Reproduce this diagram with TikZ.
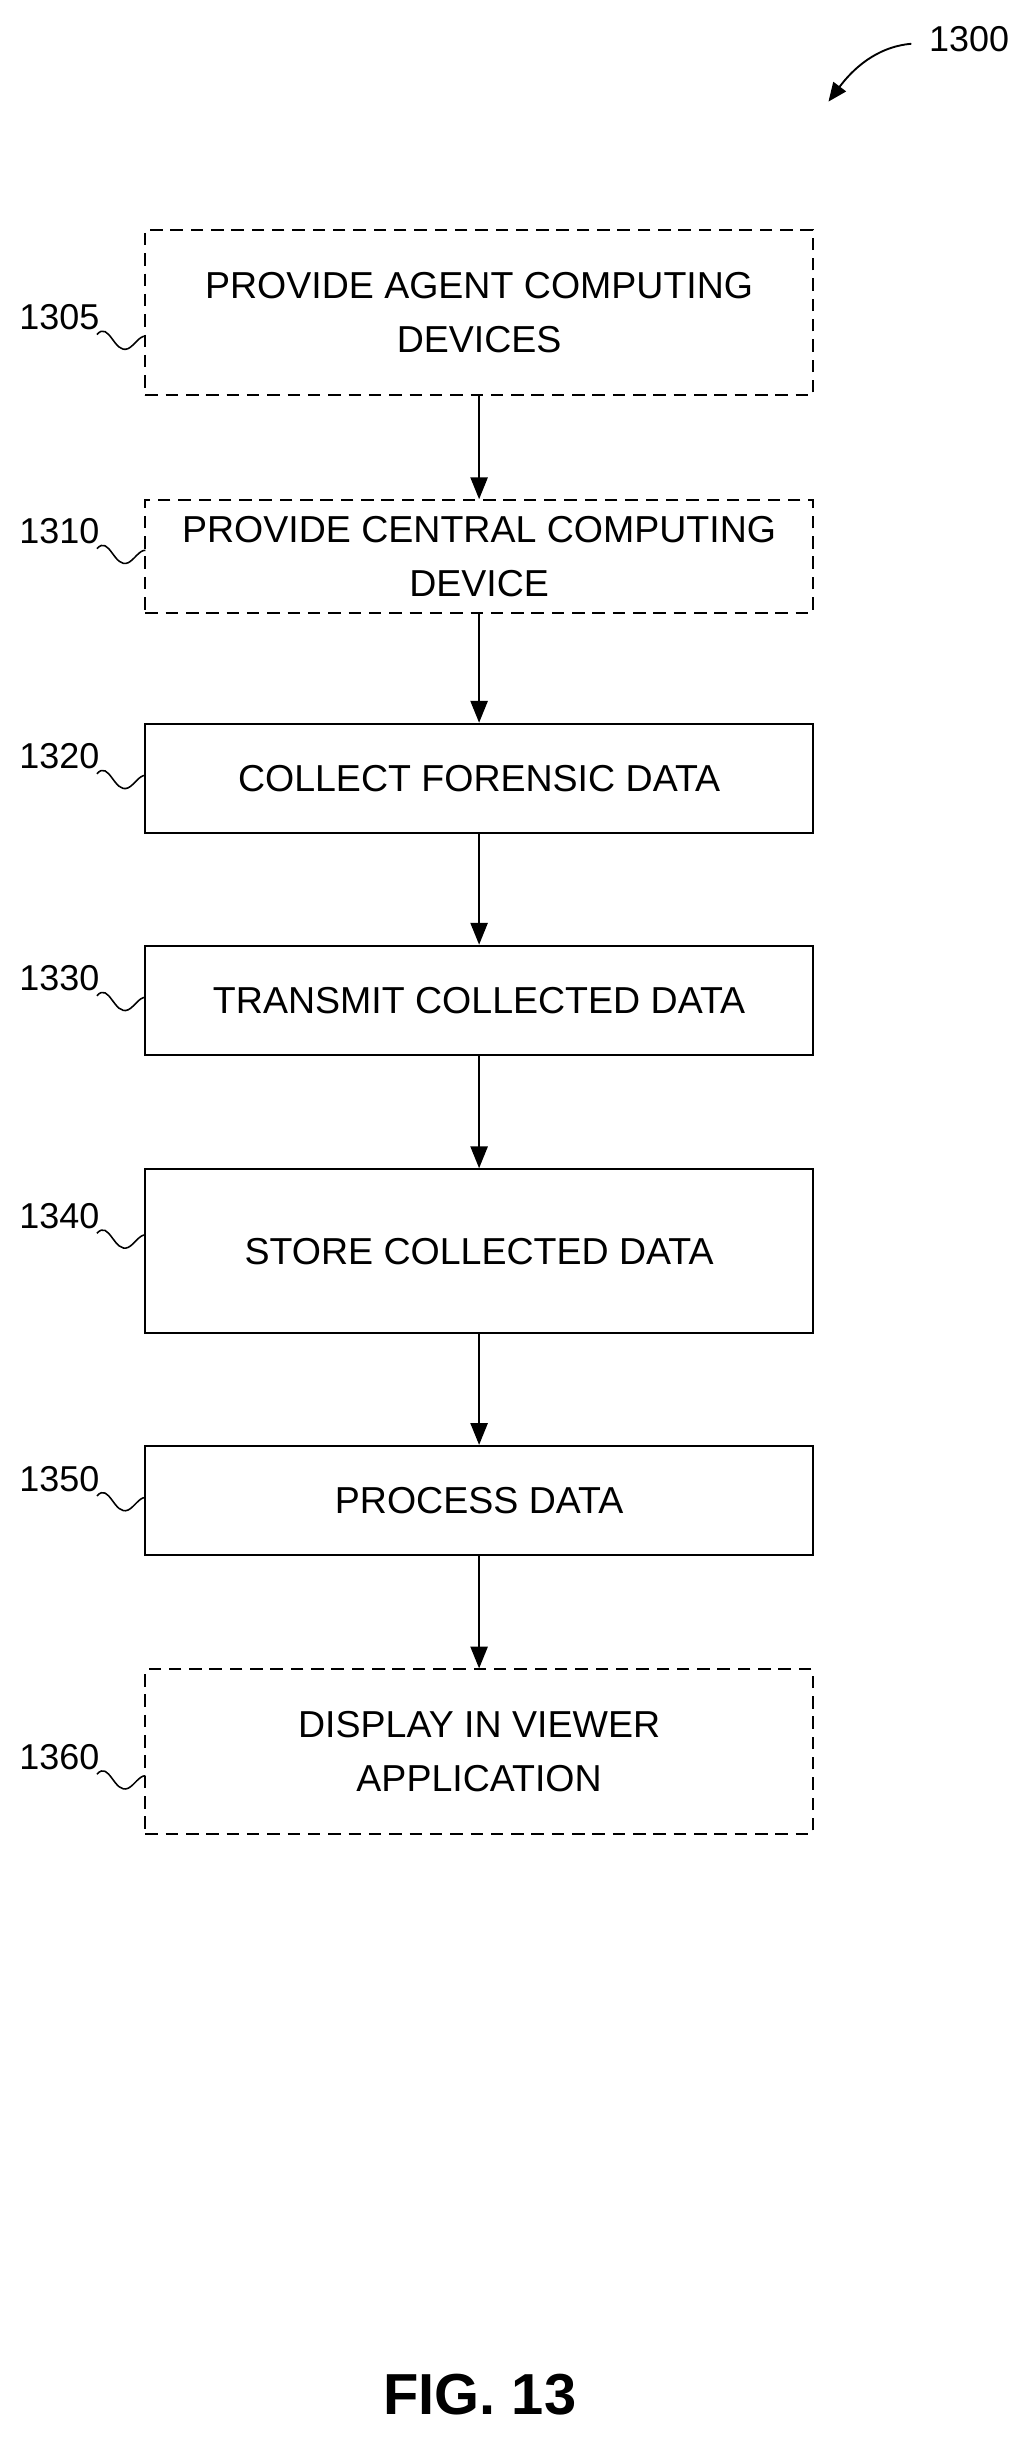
\documentclass[tikz,border=0pt]{standalone}
\usepackage{fontspec}
\setmainfont{Liberation Sans}
\usetikzlibrary{arrows.meta}
\begin{document}
\begin{tikzpicture}[x=1pt,y=-1pt,
 box/.style={draw,line width=1.3pt,minimum width=427pt,align=center,font=\fontsize{24}{35}\selectfont,inner sep=0pt},
 dbox/.style={box,dash pattern=on 8pt off 5pt},
 lab/.style={font=\fontsize{23}{26}\selectfont,inner sep=0pt},
 arr/.style={line width=1.3pt,-{Triangle[length=14pt,width=11pt]}},
 sq/.style={line width=1pt}]
\useasboundingbox (0,0) rectangle (659,1568);
\node[dbox,minimum height=106pt] (b1) at (306.5,200) {PROVIDE AGENT COMPUTING\\DEVICES};
\node[dbox,minimum height=72pt] (b2) at (306.5,356) {PROVIDE CENTRAL COMPUTING\\DEVICE};
\node[box,minimum height=70pt] (b3) at (306.5,498) {COLLECT FORENSIC DATA};
\node[box,minimum height=70pt] (b4) at (306.5,640) {TRANSMIT COLLECTED DATA};
\node[box,minimum height=105pt] (b5) at (306.5,800.5) {STORE COLLECTED DATA};
\node[box,minimum height=70pt] (b6) at (306.5,960) {PROCESS DATA};
\node[dbox,minimum height=105pt] (b7) at (306.5,1120.5) {DISPLAY IN VIEWER\\APPLICATION};
\foreach \a/\b in {b1/b2,b2/b3,b3/b4,b4/b5,b5/b6,b6/b7}{\draw[arr] (\a) -- (\b);}
\foreach \n/\t/\y in {b1/1305/203,b2/1310/340,b3/1320/484,b4/1330/626,b5/1340/778,b6/1350/946,b7/1360/1124}{
 \node[lab] (l\n) at (38,\y) {\t};
 \draw[sq] (62,\y+11) .. controls (70,\y+2) and (73,\y+24) .. (82,\y+20) .. controls (86,\y+18) and (89,\y+12) .. (93,\y+12);
}
\node[lab] (l1300) at (620,25) {1300};
\coordinate (c1300) at (530,65);
\draw[line width=1.2pt,-{Triangle[length=12pt,width=10pt]}] (583,28) .. controls (560,30) and (545,45) .. (c1300);
\node[font=\bfseries\fontsize{37}{40}\selectfont] (fig) at (307,1532) {FIG. 13};
\end{tikzpicture}
\end{document}
